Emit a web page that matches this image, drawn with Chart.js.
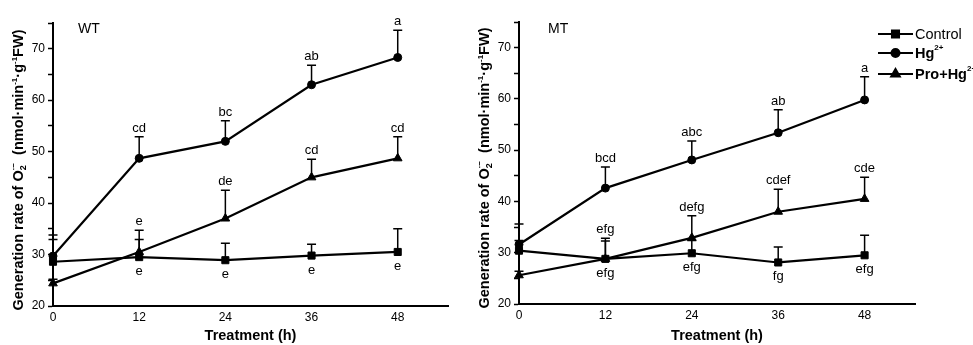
<!DOCTYPE html>
<html>
<head>
<meta charset="utf-8">
<script src="https://cdn.jsdelivr.net/npm/chart.js@4.4.0/dist/chart.umd.min.js"></script>
<style>
  body { margin: 0; background: #fff; }
  #wrap { position: relative; width: 973px; height: 345px; overflow: hidden; }
  #wtChart { position: absolute; left: 0; top: 0; }
  #mtChart { position: absolute; left: 466px; top: 0; }
</style>
</head>
<body>
<div id="wrap">
  <canvas id="wtChart" width="466" height="345" style="width:466px;height:345px"></canvas>
  <canvas id="mtChart" width="507" height="345" style="width:507px;height:345px"></canvas>
</div>
<script>
const hours = [0, 12, 24, 36, 48];
const xTicks = [0, 12, 24, 36, 48];
const yMin = 20, yMax = 75, yStep = 5;
const yLabelled = [20, 30, 40, 50, 60, 70];
const seriesNames = ['Control', 'Hg', 'Pro+Hg'];

// WT
const wtControl = [28.6, 29.5, 28.9, 29.8, 30.5];
const wtControlSD = [4.3, 3.4, 3.3, 2.2, 4.5];
const wtHg = [29.7, 48.7, 52.0, 63.0, 68.3];
const wtHgSD = [4.1, 4.2, 4.0, 3.8, 5.3];
const wtPro = [24.4, 30.5, 37.0, 45.0, 48.7];
const wtProSD = [0.8, 4.2, 5.5, 3.5, 4.2];
const wtControlLetters = ['', 'e', 'e', 'e', 'e'];
const wtHgLetters = ['', 'cd', 'bc', 'ab', 'a'];
const wtProLetters = ['', 'e', 'de', 'cd', 'cd'];

// MT
const mtControl = [30.4, 28.8, 29.9, 28.1, 29.5];
const mtControlSD = [2.0, 3.5, 2.5, 3.0, 3.9];
const mtHg = [31.6, 42.6, 48.1, 53.4, 59.8];
const mtHgSD = [4.0, 4.1, 3.7, 4.5, 4.5];
const mtPro = [25.6, 28.8, 32.9, 38.0, 40.5];
const mtProSD = [0.8, 4.0, 4.3, 4.4, 4.2];
const mtControlLetters = ['', 'efg', 'efg', 'fg', 'efg'];
const mtHgLetters = ['', 'bcd', 'abc', 'ab', 'a'];
const mtProLetters = ['', 'efg', 'defg', 'cdef', 'cde'];

const FONT = '"Liberation Sans", Arial, Helvetica, sans-serif';
const styles = [
  { pointStyle: 'rect', radius: 5 },
  { pointStyle: 'circle', radius: 4 },
  { pointStyle: 'triangle', radius: 5 }
];

function toXY(vals) {
  return hours.map((h, i) => ({ x: h, y: vals[i] }));
}

// draws pieces of text with sub/superscripts along the current x direction
function richWidth(ctx, parts) {
  let w = 0;
  parts.forEach(p => {
    ctx.font = `${p.bold ? 'bold ' : ''}${p.size}px ${FONT}`;
    if (!p.stack) w += ctx.measureText(p.text).width;
  });
  return w;
}
function drawRich(ctx, parts, x, y) {
  let cx = x;
  parts.forEach(p => {
    ctx.font = `${p.bold ? 'bold ' : ''}${p.size}px ${FONT}`;
    ctx.fillText(p.text, cx, y + (p.shift || 0));
    if (!p.stack) cx += ctx.measureText(p.text).width;
  });
}

const yTitle = [
  { text: 'Generation rate of O', size: 14.5, bold: true },
  { text: '2', size: 9, bold: true, shift: 3, stack: true },
  { text: '·−', size: 8, bold: true, shift: -7 },
  { text: '  (nmol·min', size: 14.5, bold: true },
  { text: '-1', size: 8, bold: true, shift: -6 },
  { text: '·g', size: 14.5, bold: true },
  { text: '-1', size: 8, bold: true, shift: -6 },
  { text: 'FW)', size: 14.5, bold: true }
];

const errorBars = {
  id: 'errorBars',
  beforeDatasetsDraw(chart) {
    const { ctx } = chart;
    const y = chart.scales.y;
    ctx.save();
    ctx.strokeStyle = '#000';
    ctx.lineWidth = 1.5;
    chart.data.datasets.forEach((ds, i) => {
      chart.getDatasetMeta(i).data.forEach((pt, j) => {
        const top = y.getPixelForValue(ds.data[j].y + ds.sd[j]);
        ctx.beginPath();
        ctx.moveTo(pt.x, pt.y);
        ctx.lineTo(pt.x, top);
        ctx.moveTo(pt.x - 4.5, top);
        ctx.lineTo(pt.x + 4.5, top);
        ctx.stroke();
      });
    });
    ctx.restore();
  },
  afterDatasetsDraw(chart) {
    const { ctx } = chart;
    const y = chart.scales.y;
    ctx.save();
    ctx.fillStyle = '#000';
    ctx.font = `13px ${FONT}`;
    ctx.textAlign = 'center';
    ctx.textBaseline = 'alphabetic';
    chart.data.datasets.forEach((ds, i) => {
      chart.getDatasetMeta(i).data.forEach((pt, j) => {
        const txt = ds.letters[j];
        if (!txt) return;
        if (ds.below) {
          ctx.fillText(txt, pt.x, pt.y + 18);
        } else {
          const top = y.getPixelForValue(ds.data[j].y + ds.sd[j]);
          ctx.fillText(txt, pt.x, top - 5);
        }
      });
    });
    ctx.restore();
  }
};

const decorations = {
  id: 'decorations',
  afterDraw(chart) {
    const { ctx, chartArea } = chart;
    const o = chart.options.plugins.decorations;
    ctx.save();
    ctx.fillStyle = '#000';
    // panel name
    ctx.font = `14px ${FONT}`;
    ctx.textAlign = 'left';
    ctx.textBaseline = 'middle';
    ctx.fillText(o.panel, o.panelX, 29);
    // x title
    ctx.font = `bold 14.5px ${FONT}`;
    ctx.textAlign = 'center';
    ctx.fillText('Treatment (h)', (chartArea.left + chartArea.right) / 2, 336);
    // y title
    ctx.textAlign = 'left';
    ctx.textBaseline = 'alphabetic';
    ctx.translate(23, o.titleY);
    ctx.rotate(-Math.PI / 2);
    const w = richWidth(ctx, yTitle);
    drawRich(ctx, yTitle, -w / 2, 0);
    ctx.restore();

    if (o.legend) {
      ctx.save();
      ctx.fillStyle = '#000';
      ctx.strokeStyle = '#000';
      ctx.textBaseline = 'middle';
      const rows = [34, 53, 74];
      const labels = [
        [{ text: seriesNames[0], size: 14.5 }],
        [{ text: seriesNames[1], size: 14.5, bold: true }, { text: '2+', size: 8, bold: true, shift: -6 }],
        [{ text: seriesNames[2], size: 14.5, bold: true }, { text: '2+', size: 8, bold: true, shift: -6 }]
      ];
      rows.forEach((ry, k) => {
        ctx.lineWidth = 2;
        ctx.beginPath();
        ctx.moveTo(412, ry);
        ctx.lineTo(447, ry);
        ctx.stroke();
        Chart.helpers.drawPoint(ctx, { pointStyle: styles[k].pointStyle, radius: styles[k].radius, rotation: 0, borderWidth: 1 }, 429.5, ry);
        ctx.fill();
        drawRich(ctx, labels[k], 449, ry + 1);
      });
      ctx.restore();
    }
  }
};

function makePanel(id, series, sds, letters, pad, xHeight, extra) {
  const ctx = document.getElementById(id).getContext('2d');
  return new Chart(ctx, {
    type: 'line',
    data: {
      datasets: series.map((vals, k) => ({
        label: seriesNames[k],
        data: toXY(vals),
        sd: sds[k],
        letters: letters[k],
        below: k === 0,
        borderColor: '#000',
        backgroundColor: '#000',
        borderWidth: 2.2,
        tension: 0,
        pointStyle: styles[k].pointStyle,
        pointRadius: styles[k].radius,
        pointHoverRadius: styles[k].radius,
        pointBorderWidth: 1,
        clip: false
      }))
    },
    options: {
      responsive: false,
      animation: false,
      events: [],
      layout: { padding: pad },
      plugins: {
        legend: { display: false },
        tooltip: { enabled: false },
        decorations: extra
      },
      scales: {
        x: {
          type: 'linear',
          min: 0,
          max: 55,
          afterBuildTicks: s => { s.ticks = xTicks.map(v => ({ value: v })); },
          afterFit: s => { s.height = xHeight; },
          grid: { drawOnChartArea: false, drawTicks: false },
          border: { display: true, color: '#000', width: 2 },
          ticks: { color: '#000', padding: 4, maxRotation: 0, autoSkip: false, font: { family: FONT, size: 12 } }
        },
        y: {
          min: yMin,
          max: yMax,
          afterFit: s => { s.width = 53; },
          grid: { drawOnChartArea: false, drawTicks: true, tickLength: 5, color: '#000', tickWidth: 1.5 },
          border: { display: true, color: '#000', width: 2 },
          ticks: {
            stepSize: yStep,
            autoSkip: false,
            color: '#000',
            padding: 3,
            font: { family: FONT, size: 12 },
            callback: v => (yLabelled.includes(v) ? v : '')
          }
        }
      }
    },
    plugins: [errorBars, decorations]
  });
}

makePanel('wtChart',
  [wtControl, wtHg, wtPro],
  [wtControlSD, wtHgSD, wtProSD],
  [wtControlLetters, wtHgLetters, wtProLetters],
  { left: 0, right: 18, top: 23, bottom: 0 }, 39,
  { panel: 'WT', panelX: 78, titleY: 170, legend: false });

makePanel('mtChart',
  [mtControl, mtHg, mtPro],
  [mtControlSD, mtHgSD, mtProSD],
  [mtControlLetters, mtHgLetters, mtProLetters],
  { left: 0, right: 58, top: 22, bottom: 0 }, 41,
  { panel: 'MT', panelX: 82, titleY: 168, legend: true });
</script>
</body>
</html>
